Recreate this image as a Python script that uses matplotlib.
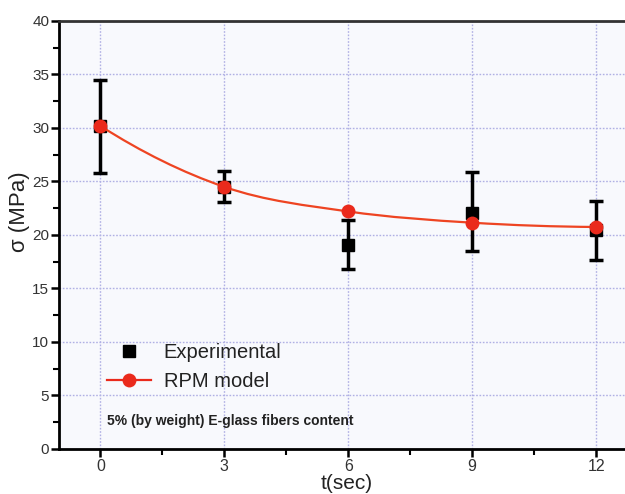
import numpy as np
import matplotlib
matplotlib.use("Agg")
import matplotlib.pyplot as plt
from matplotlib.path import Path
from matplotlib.patches import PathPatch
from matplotlib.lines import Line2D
from matplotlib.ticker import MultipleLocator

plt.rcParams['font.family'] = ['Liberation Sans', 'DejaVu Sans']

# ---- data ----
t_exp = [0, 3, 6, 9, 12]
sigma_exp = [30.2, 24.5, 19.1, 22.1, 20.5]
err_low = [4.4, 1.4, 2.3, 3.6, 2.8]
err_high = [4.3, 1.5, 2.3, 3.8, 2.7]

t_model = [0, 3, 6, 9, 12]
sigma_model = [30.2, 24.5, 22.2, 21.15, 20.75]

x_ticks = [0, 3, 6, 9, 12]
y_ticks = [0, 5, 10, 15, 20, 25, 30, 35, 40]

fig = plt.figure(figsize=(6.25, 4.94), dpi=100)
ax = fig.add_axes([0.0944, 0.0911, 0.9056, 0.8664])
ax.set_facecolor('#f8f9fd')

ax.set_xlim(-1, 12.7)
ax.set_ylim(0, 40)
ax.set_xticks(x_ticks)
ax.set_yticks(y_ticks)
ax.xaxis.set_minor_locator(MultipleLocator(1.5))
ax.yaxis.set_minor_locator(MultipleLocator(2.5))
ax.grid(True, which='major', linestyle=(0, (1.2, 1.2)), color='#b0b0e4', linewidth=1.0)
ax.set_axisbelow(True)

# error bars + experimental squares
ax.errorbar(t_exp, sigma_exp, yerr=[err_low, err_high], fmt='s', color='black',
            ecolor='black', markersize=9, elinewidth=2.5, capsize=5, capthick=2.5,
            zorder=3)

# smooth model curve (Bezier through model points)
xs = np.asarray(t_model, float)
ys = np.asarray(sigma_model, float)
n = len(xs)
d = np.zeros(n)
for i in range(n):
    if i == 0:
        d[i] = (-3 * ys[0] + 4 * ys[1] - ys[2]) / (xs[2] - xs[0])
    elif i == n - 1:
        d[i] = (3 * ys[-1] - 4 * ys[-2] + ys[-3]) / (xs[-1] - xs[-3])
    else:
        d[i] = (ys[i + 1] - ys[i - 1]) / (xs[i + 1] - xs[i - 1])
verts = [(xs[0], ys[0])]
codes = [Path.MOVETO]
for i in range(n - 1):
    h = xs[i + 1] - xs[i]
    verts += [(xs[i] + h / 3, ys[i] + d[i] * h / 3),
              (xs[i + 1] - h / 3, ys[i + 1] - d[i + 1] * h / 3),
              (xs[i + 1], ys[i + 1])]
    codes += [Path.CURVE4] * 3
ax.add_patch(PathPatch(Path(verts, codes), facecolor='none', edgecolor='#ee4422',
                       linewidth=1.6, zorder=4))
ax.plot(t_model, sigma_model, 'o', color='#ea2a1c', markersize=10, zorder=5,
        markeredgewidth=0)

# spines and ticks
for s in ['left', 'bottom']:
    ax.spines[s].set_linewidth(2.0)
    ax.spines[s].set_color('black')
ax.spines['top'].set_linewidth(2.0)
ax.spines['top'].set_color('#333333')
ax.spines['right'].set_visible(False)
ax.tick_params(which='major', direction='out', length=6, width=1.8, color='black')
ax.tick_params(which='minor', direction='out', length=4, width=1.5, color='black')
ax.tick_params(axis='x', labelsize=11.5, pad=1.5, colors='#333333')
ax.tick_params(axis='y', labelsize=11, pad=1, colors='#333333')
ax.tick_params(axis='both', color='black')

ax.set_xlabel('t(sec)', fontsize=15, color='#222222', va='bottom')
ax.xaxis.set_label_coords(0.509, -0.1028)
ax.set_ylabel('σ (MPa)', fontsize=16, color='#222222', va='center')
ax.yaxis.set_label_coords(-0.069, 0.555)

handles = [Line2D([], [], marker='s', color='black', linestyle='none', markersize=9),
           Line2D([], [], marker='o', color='#ea2a1c', linestyle='-', linewidth=1.6,
                  markersize=10, markeredgewidth=0)]
ax.legend(handles, ['Experimental', 'RPM model'], loc='upper left',
          bbox_to_anchor=(0.053, 0.29), frameon=False, fontsize=14.5,
          handlelength=2.2, handletextpad=0.6, labelspacing=0.5,
          labelcolor='#222222')

ax.text(0.085, 0.065, '5% (by weight) E-glass fibers content', transform=ax.transAxes,
        fontsize=10, fontweight='bold', color='#222222', va='center')

fig.savefig('out.png', dpi=100, facecolor='white')
